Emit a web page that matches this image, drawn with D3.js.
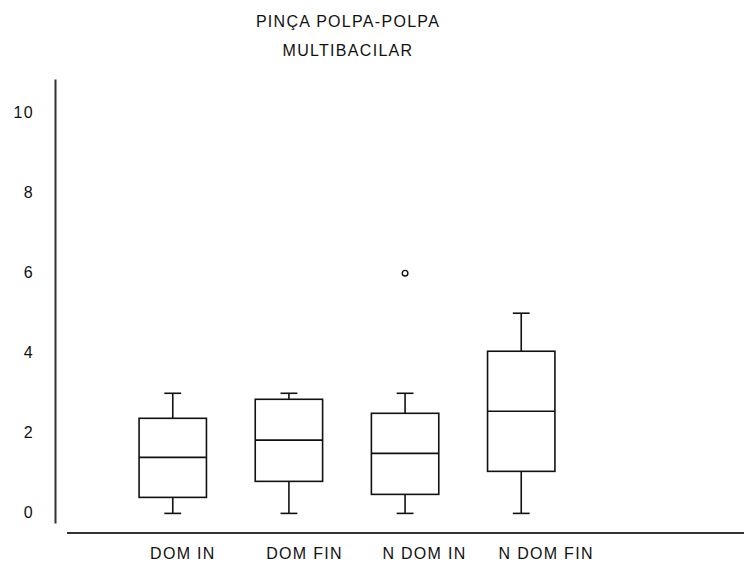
<!DOCTYPE html>
<html>
<head>
<meta charset="utf-8">
<script src="https://cdn.jsdelivr.net/npm/d3@7"></script>
<style>
  body { margin: 0; background: #fff; }
  svg text { font-family: "Liberation Sans", Arial, sans-serif; fill: #111; letter-spacing: 1.3px; }
</style>
</head>
<body>
<div id="chart"></div>
<script>
// DATA
const categories = ["DOM IN", "DOM FIN", "N DOM IN", "N DOM FIN"];
const whiskerLow = [0, 0, 0, 0];
const q1 = [0.4, 0.8, 0.475, 1.05];
const median = [1.4, 1.83, 1.5, 2.55];
const q3 = [2.375, 2.85, 2.5, 4.05];
const whiskerHigh = [3, 3, 3, 5];
const outliers = [[], [], [6], []];
const yTicks = [0, 2, 4, 6, 8, 10];
const titleLines = ["PINÇA POLPA-POLPA", "MULTIBACILAR"];

const width = 744, height = 563;

const svg = d3.select("#chart")
  .append("svg")
  .attr("width", width)
  .attr("height", height);

// TITLE
svg.selectAll(".title")
  .data(titleLines)
  .enter()
  .append("text")
  .attr("class", "title")
  .attr("x", 348)
  .attr("y", (d, i) => 27 + i * 29)
  .attr("text-anchor", "middle")
  .style("font-size", "16px")
  .text(d => d);

// SCALES
const x = d3.scaleBand()
  .domain(categories)
  .range([81, 613])
  .paddingInner(0.42)
  .paddingOuter(0.5);

const y = d3.scaleLinear()
  .domain([-0.24, 10.85])
  .range([523, 79]);

// Y AXIS
const yAxis = svg.append("g")
  .attr("transform", "translate(55,0)")
  .call(d3.axisLeft(y).tickValues(yTicks).tickSize(0).tickSizeOuter(0).tickPadding(21));
yAxis.select(".domain").attr("stroke", "#333").attr("stroke-width", 2);
yAxis.selectAll("text")
  .style("font-size", "16px")
  .attr("dy", "0.25em");

// X AXIS
svg.append("line")
  .attr("x1", 67)
  .attr("x2", width)
  .attr("y1", 533)
  .attr("y2", 533)
  .attr("stroke", "#333")
  .attr("stroke-width", 2);

svg.selectAll(".xlabel")
  .data(categories)
  .enter()
  .append("text")
  .attr("class", "xlabel")
  .attr("x", d => x(d) + 11)
  .attr("y", 559)
  .style("font-size", "16px")
  .text(d => d);

// BOXES
const bw = x.bandwidth();
const capW = bw * 0.25;

const boxes = svg.selectAll(".box")
  .data(categories)
  .enter()
  .append("g")
  .attr("class", "box")
  .attr("stroke", "#111")
  .attr("stroke-width", 1.6)
  .attr("fill", "none");

// whiskers
boxes.append("line")
  .attr("x1", d => x(d) + bw / 2)
  .attr("x2", d => x(d) + bw / 2)
  .attr("y1", (d, i) => y(whiskerHigh[i]))
  .attr("y2", (d, i) => y(q3[i]));
boxes.append("line")
  .attr("x1", d => x(d) + bw / 2)
  .attr("x2", d => x(d) + bw / 2)
  .attr("y1", (d, i) => y(q1[i]))
  .attr("y2", (d, i) => y(whiskerLow[i]));
// caps
boxes.append("line")
  .attr("x1", d => x(d) + bw / 2 - capW / 2)
  .attr("x2", d => x(d) + bw / 2 + capW / 2)
  .attr("y1", (d, i) => y(whiskerHigh[i]))
  .attr("y2", (d, i) => y(whiskerHigh[i]));
boxes.append("line")
  .attr("x1", d => x(d) + bw / 2 - capW / 2)
  .attr("x2", d => x(d) + bw / 2 + capW / 2)
  .attr("y1", (d, i) => y(whiskerLow[i]))
  .attr("y2", (d, i) => y(whiskerLow[i]));
// box
boxes.append("rect")
  .attr("x", d => x(d))
  .attr("width", bw)
  .attr("y", (d, i) => y(q3[i]))
  .attr("height", (d, i) => y(q1[i]) - y(q3[i]))
  .attr("fill", "#fff");
// median
boxes.append("line")
  .attr("x1", d => x(d))
  .attr("x2", d => x(d) + bw)
  .attr("y1", (d, i) => y(median[i]))
  .attr("y2", (d, i) => y(median[i]));
// outliers
boxes.each(function (d, i) {
  d3.select(this)
    .selectAll("circle")
    .data(outliers[i])
    .enter()
    .append("circle")
    .attr("cx", x(d) + bw / 2)
    .attr("cy", v => y(v))
    .attr("r", 2.8)
    .attr("stroke-width", 1.4);
});
</script>
</body>
</html>
